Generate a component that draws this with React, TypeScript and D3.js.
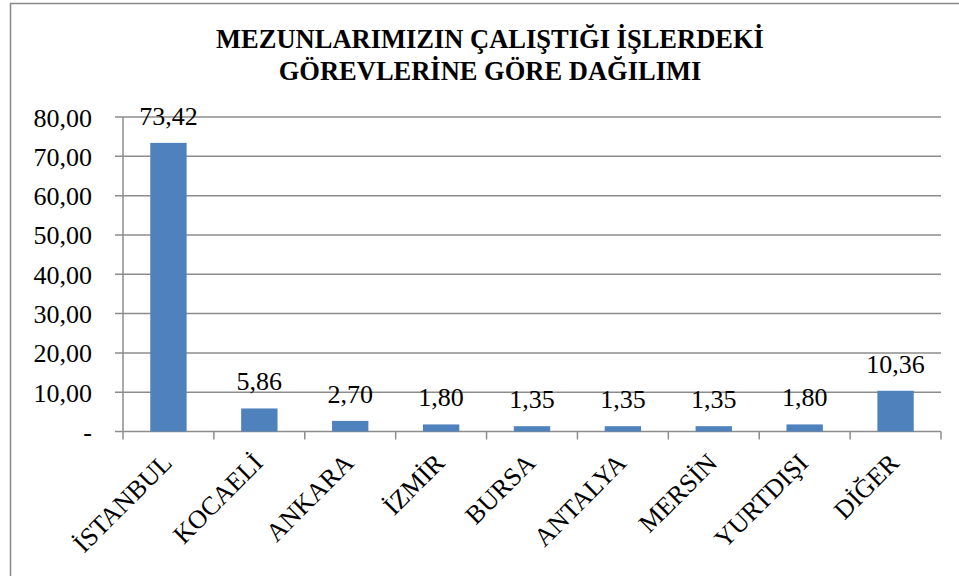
import React, { useEffect, useRef } from 'react';
import * as d3 from 'd3';

const categories = ['İSTANBUL', 'KOCAELİ', 'ANKARA', 'İZMİR', 'BURSA', 'ANTALYA', 'MERSİN', 'YURTDIŞI', 'DİĞER'];
const values = [73.42, 5.86, 2.7, 1.8, 1.35, 1.35, 1.35, 1.8, 10.36];
const yTicks = [0, 10, 20, 30, 40, 50, 60, 70, 80];
const titleLines = ['MEZUNLARIMIZIN ÇALIŞTIĞI İŞLERDEKİ', 'GÖREVLERİNE GÖRE DAĞILIMI'];

const W = 959;
const H = 576;
const FONT = "'Liberation Serif', Tinos, 'Times New Roman', 'DejaVu Serif', serif";

const fmt = (v: number) => (v === 0 ? '-' : v.toFixed(2).replace('.', ','));

const App: React.FC = () => {
  const svgRef = useRef<SVGSVGElement>(null);

  useEffect(() => {
    if (!svgRef.current) return;
    const svg = d3.select(svgRef.current);
    svg.selectAll('*').remove();

    const left = 123;
    const right = 941;
    const top = 117;
    const bottom = 431.5;

    // outer chart frame
    svg.append('rect')
      .attr('x', 10.5).attr('y', 3.5)
      .attr('width', W + 20).attr('height', H + 20)
      .attr('fill', '#fff').attr('stroke', '#888').attr('stroke-width', 1.5);

    const title = svg.append('text')
      .attr('text-anchor', 'middle')
      .attr('font-family', FONT)
      .attr('font-weight', 'bold')
      .attr('font-size', 26.5);
    titleLines.forEach((line, i) => {
      title.append('tspan').attr('x', 490).attr('y', 48 + i * 32).text(line);
    });

    const x = d3.scaleBand<string>().domain(categories).range([left, right]).padding(0);
    const y = d3.scaleLinear().domain([0, 80]).range([bottom, top]);
    const bw = x.bandwidth();

    // gridlines
    svg.append('g')
      .selectAll('line')
      .data(yTicks)
      .enter()
      .append('line')
      .attr('x1', left - 8).attr('x2', right)
      .attr('y1', d => y(d)).attr('y2', d => y(d))
      .attr('stroke', '#8c8c8c').attr('stroke-width', 1.5);

    // y axis line
    svg.append('line')
      .attr('x1', left).attr('x2', left)
      .attr('y1', top).attr('y2', bottom)
      .attr('stroke', '#8c8c8c').attr('stroke-width', 1.5);

    // x tick marks
    const xTicks = categories.map(c => x(c) as number).concat([right]);
    svg.append('g')
      .selectAll('line')
      .data(xTicks)
      .enter()
      .append('line')
      .attr('x1', d => d).attr('x2', d => d)
      .attr('y1', bottom).attr('y2', bottom + 8)
      .attr('stroke', '#8c8c8c').attr('stroke-width', 1.5);

    // y tick labels
    svg.append('g')
      .selectAll('text')
      .data(yTicks)
      .enter()
      .append('text')
      .attr('x', 92)
      .attr('y', d => y(d) + 9.5)
      .attr('text-anchor', 'end')
      .attr('font-family', FONT)
      .attr('font-size', 26)
      .text(d => fmt(d));

    // bars
    svg.append('g')
      .selectAll('rect')
      .data(values)
      .enter()
      .append('rect')
      .attr('x', (_d, i) => (x(categories[i]) as number) + bw * 0.3)
      .attr('width', bw * 0.4)
      .attr('y', d => y(d))
      .attr('height', d => bottom - y(d))
      .attr('fill', '#4f81bd');

    // value labels
    svg.append('g')
      .selectAll('text')
      .data(values)
      .enter()
      .append('text')
      .attr('x', (_d, i) => (x(categories[i]) as number) + bw / 2)
      .attr('y', d => y(d) - 18)
      .attr('text-anchor', 'middle')
      .attr('font-family', FONT)
      .attr('font-size', 26)
      .text(d => fmt(d));

    // category labels
    svg.append('g')
      .selectAll('text')
      .data(categories)
      .enter()
      .append('text')
      .attr('text-anchor', 'end')
      .attr('transform', d => `translate(${(x(d) as number) + bw / 2 + 5},${bottom + 33}) rotate(-45)`)
      .attr('font-family', FONT)
      .attr('font-size', 26)
      .text(d => d);
  }, []);

  return (
    <svg
      ref={svgRef}
      width={W}
      height={H}
      style={{ position: 'absolute', left: 0, top: 0, background: '#fff' }}
    />
  );
};

export default App;
